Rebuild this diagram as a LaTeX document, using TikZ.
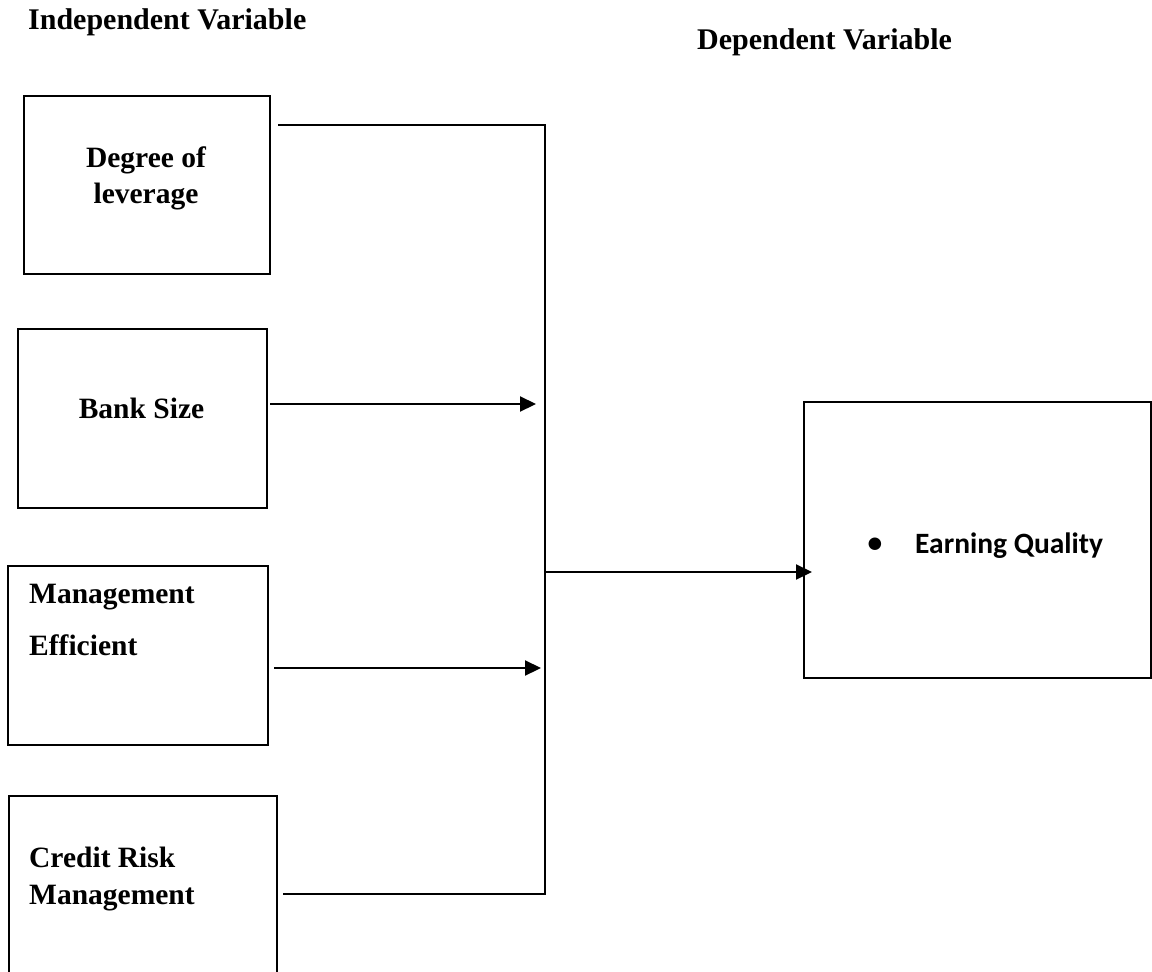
\documentclass[tikz,border=0pt]{standalone}
\usepackage{fontspec}
\setmainfont{Liberation Serif}
\newfontfamily\calfont{Carlito}
\usetikzlibrary{arrows.meta}
\begin{document}
\begin{tikzpicture}[x=1pt,y=-1pt,
  box/.style={draw,line width=2.3pt,inner sep=0pt,rectangle},
  conn/.style={line width=2.2pt},
  arr/.style={conn,-{Triangle[length=16pt,width=15pt]}},
  lbl/.style={font=\fontsize{29.5}{36}\selectfont\bfseries,inner sep=0pt}]
\useasboundingbox (0,0) rectangle (1152,972);
\fill[white] (0,0) rectangle (1152,972);
\clip (0,0) rectangle (1152,972);
% headers
\node[lbl,anchor=base west,font=\fontsize{30}{36}\selectfont\bfseries] (hind) at (28,29) {Independent Variable};
\node[lbl,anchor=base west,font=\fontsize{30}{36}\selectfont\bfseries] (hdep) at (697,49) {Dependent Variable};
% boxes
\node[box,minimum width=246pt,minimum height=178pt] (b1) at (147,185) {};
\node[box,minimum width=249pt,minimum height=179pt] (b2) at (142.5,418.5) {};
\node[box,minimum width=260pt,minimum height=179pt] (b3) at (138,655.5) {};
\node[box,minimum width=268pt,minimum height=220pt] (b4) at (143,906) {};
\node[box,minimum width=347pt,minimum height=276pt] (b5) at (977.5,540) {};
% texts
\node[lbl,anchor=north,align=center] (t1) at (146,147) {Degree of\\leverage};
\node[lbl,anchor=base] (t2) at (141.5,418) {Bank Size};
\node[lbl,anchor=north west,align=left,font=\fontsize{29.5}{52}\selectfont\bfseries] (t3) at (29,584) {Management\\Efficient};
\node[lbl,anchor=north west,align=left,font=\fontsize{29.5}{37}\selectfont\bfseries] (t4) at (29,847) {Credit Risk\\Management};
\node[inner sep=0pt,font=\calfont\bfseries\fontsize{29.5}{35}\selectfont,anchor=center] (bul) at (875,545) {•};
\node[inner sep=0pt,font=\calfont\bfseries\fontsize{29.5}{35}\selectfont,anchor=base west] (t5) at (915,553) {Earning Quality};
% connectors
\coordinate (s1) at (278,125);
\coordinate (j4) at (545,894);
\coordinate (s4) at (283,894);
\coordinate (j) at (545,572);
\coordinate (s2) at (270,404);
\coordinate (e2) at (536,404);
\coordinate (s3) at (274,668);
\coordinate (e3) at (541,668);
\coordinate (e5) at (812,572);
\draw[conn] (s1) -| (j4) -- (s4);
\draw[arr] (s2) -- (e2);
\draw[arr] (s3) -- (e3);
\draw[arr] (j) -- (e5);
\end{tikzpicture}
\end{document}
